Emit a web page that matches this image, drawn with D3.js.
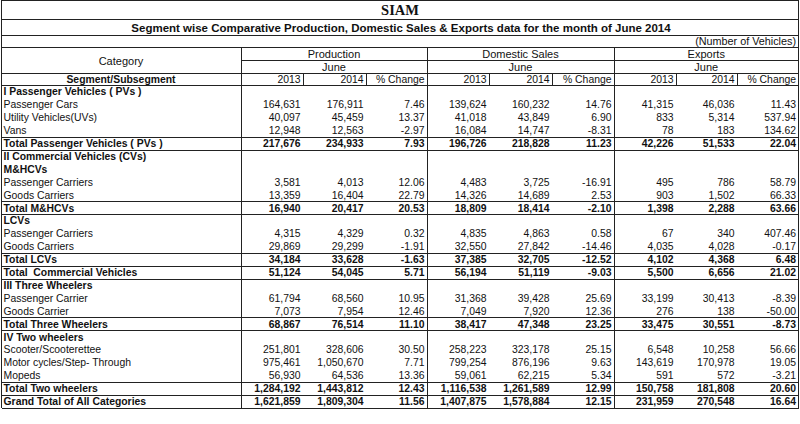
<!DOCTYPE html>
<html><head><meta charset="utf-8">
<script src="https://cdn.jsdelivr.net/npm/d3@7"></script>
<style>
html,body{margin:0;padding:0;background:#fff;}
svg{display:block;font-family:"Liberation Sans",Arial,sans-serif;}
text{white-space:pre;}
</style></head>
<body><svg id="c" width="800" height="424"></svg>
<script>
const title = "SIAM";
const subtitle = "Segment wise Comparative Production, Domestic Sales & Exports data for the month of June 2014";
const unitNote = "(Number of Vehicles)";
const groups = ["Production", "Domestic Sales", "Exports"];
const monthLabel = "June";
const yearLabels = ["2013", "2014", "% Change"];

const labels = [
  "I Passenger Vehicles ( PVs )", "Passenger Cars", "Utility Vehicles(UVs)", "Vans",
  "Total Passenger Vehicles ( PVs )", "II Commercial Vehicles (CVs)", "M&HCVs",
  "Passenger Carriers", "Goods Carriers", "Total M&HCVs", "LCVs", "Passenger Carriers",
  "Goods Carriers", "Total LCVs", "Total  Commercial Vehicles", "III Three Wheelers",
  "Passenger Carrier", "Goods Carrier", "Total Three Wheelers", "IV Two wheelers",
  "Scooter/Scooterettee", "Motor cycles/Step- Through", "Mopeds", "Total Two wheelers",
  "Grand Total of All Categories"
];
// row kinds: s = section heading, i = item, t = total
const rowKinds = ["s","i","i","i","t","s","s","i","i","t","s","i","i","t","t","s","i","i","t","s","i","i","i","t","t"];

const prod2013 = [null,164631,40097,12948,217676,null,null,3581,13359,16940,null,4315,29869,34184,51124,null,61794,7073,68867,null,251801,975461,56930,1284192,1621859];
const prod2014 = [null,176911,45459,12563,234933,null,null,4013,16404,20417,null,4329,29299,33628,54045,null,68560,7954,76514,null,328606,1050670,64536,1443812,1809304];
const prodChg  = [null,7.46,13.37,-2.97,7.93,null,null,12.06,22.79,20.53,null,0.32,-1.91,-1.63,5.71,null,10.95,12.46,11.10,null,30.50,7.71,13.36,12.43,11.56];
const dom2013  = [null,139624,41018,16084,196726,null,null,4483,14326,18809,null,4835,32550,37385,56194,null,31368,7049,38417,null,258223,799254,59061,1116538,1407875];
const dom2014  = [null,160232,43849,14747,218828,null,null,3725,14689,18414,null,4863,27842,32705,51119,null,39428,7920,47348,null,323178,876196,62215,1261589,1578884];
const domChg   = [null,14.76,6.90,-8.31,11.23,null,null,-16.91,2.53,-2.10,null,0.58,-14.46,-12.52,-9.03,null,25.69,12.36,23.25,null,25.15,9.63,5.34,12.99,12.15];
const exp2013  = [null,41315,833,78,42226,null,null,495,903,1398,null,67,4035,4102,5500,null,33199,276,33475,null,6548,143619,591,150758,231959];
const exp2014  = [null,46036,5314,183,51533,null,null,786,1502,2288,null,340,4028,4368,6656,null,30413,138,30551,null,10258,170978,572,181808,270548];
const expChg   = [null,11.43,537.94,134.62,22.04,null,null,58.79,66.33,63.66,null,407.46,-0.17,6.48,21.02,null,-8.39,-50.00,-8.73,null,56.66,19.05,-3.21,20.60,16.64];

const series = [prod2013, prod2014, prodChg, dom2013, dom2014, domChg, exp2013, exp2014, expChg];

// ---------- layout ----------
const svg = d3.select("#c");
const L = 1.5, R = 798.5;
const colEdges = [241, 303, 366, 427, 489, 552, 614, 676, 737, 798.5];
const fs = 10.4;
const ink = "#111";
const lineC = "#222";

const y = d3.scaleBand().domain(d3.range(labels.length)).range([85, 407.5]).paddingInner(0).paddingOuter(0);
const x = d3.scaleOrdinal().domain(d3.range(series.length)).range(colEdges.slice(1));

const loc = d3.formatLocale({ decimal: ".", thousands: ",", grouping: [3], currency: ["", ""], minus: "-" });
const fmtInt = loc.format(",");
const fmtPct = loc.format(".2f");

function hline(x1, x2, yy, w = 1, c = lineC) {
  svg.append("line").attr("x1", x1).attr("x2", x2).attr("y1", yy).attr("y2", yy)
    .attr("stroke", c).attr("stroke-width", w).attr("shape-rendering", "crispEdges");
}
function vline(xx, y1, y2, w = 1, c = lineC) {
  svg.append("line").attr("x1", xx).attr("x2", xx).attr("y1", y1).attr("y2", y2)
    .attr("stroke", c).attr("stroke-width", w).attr("shape-rendering", "crispEdges");
}

// outer frame / title rows
hline(L, R, 0.5);
hline(L, R, 19.5);
hline(L, R, 35.5);
hline(L, R, 47.5);
hline(241, R, 60.5);
hline(L, R, 73.5);
hline(L, R, 85.5);
vline(L, 0, 408);
vline(R, 0, 408);
[241, 427, 614].forEach(xx => vline(xx + 0.5, 47.5, 408));
// separators in the year header row
[303, 366, 489, 552, 676, 737].forEach(xx => vline(xx + 0.5, 73.5, 85.5));

// titles
svg.append("text").attr("x", 400).attr("y", 15).attr("text-anchor", "middle")
  .attr("font-family", "'Liberation Serif','Times New Roman',serif").attr("font-weight", "bold")
  .attr("font-size", 14.5).attr("fill", ink).text(title);
svg.append("text").attr("x", 401).attr("y", 31.5).attr("text-anchor", "middle")
  .attr("font-weight", "bold").attr("font-size", 11.5).attr("fill", ink).text(subtitle);
svg.append("text").attr("x", 796).attr("y", 45).attr("text-anchor", "end")
  .attr("font-size", 10.8).attr("fill", ink).text(unitNote);

// header
svg.append("text").attr("x", 121).attr("y", 64.5).attr("text-anchor", "middle")
  .attr("font-size", 11).attr("fill", ink).text("Category");
svg.append("text").attr("x", 121).attr("y", 83).attr("text-anchor", "middle")
  .attr("font-weight", "bold").attr("font-size", fs).attr("fill", ink).text("Segment/Subsegment");
const groupEdges = [[241, 427], [427, 614], [614, 798.5]];
groups.forEach((g, i) => {
  const cx = (groupEdges[i][0] + groupEdges[i][1]) / 2;
  svg.append("text").attr("x", cx).attr("y", 57.5).attr("text-anchor", "middle")
    .attr("font-size", 11).attr("fill", ink).text(g);
  svg.append("text").attr("x", cx).attr("y", 71).attr("text-anchor", "middle")
    .attr("font-size", 11).attr("fill", ink).text(monthLabel);
  yearLabels.forEach((yl, j) => {
    svg.append("text").attr("x", colEdges[i * 3 + j + 1] - 2.5).attr("y", 83)
      .attr("text-anchor", "end").attr("font-size", fs).attr("fill", ink).text(yl);
  });
});

// total row rules
rowKinds.forEach((k, i) => {
  if (k === "t") {
    hline(L, R, Math.round(y(i)) + 0.5);
    hline(L, R, Math.round(y(i) + y.bandwidth()) + 0.5);
  }
});

// row labels
const rows = svg.append("g");
rows.selectAll("text.lab").data(labels).join("text")
  .attr("class", "lab")
  .attr("x", 3.5)
  .attr("y", (d, i) => y(i) + y.bandwidth() / 2 + 4)
  .attr("font-size", fs)
  .attr("font-weight", (d, i) => rowKinds[i] === "i" ? "normal" : "bold")
  .attr("fill", ink)
  .text(d => d);

// values
series.forEach((arr, c) => {
  const isPct = c % 3 === 2;
  rows.selectAll("text.v" + c).data(arr.map((v, i) => ({ v, i })).filter(d => d.v !== null)).join("text")
    .attr("class", "v" + c)
    .attr("x", x(c) - 2.5)
    .attr("y", d => y(d.i) + y.bandwidth() / 2 + 4)
    .attr("text-anchor", "end")
    .attr("font-size", fs)
    .attr("font-weight", d => rowKinds[d.i] === "t" ? "bold" : "normal")
    .attr("fill", ink)
    .text(d => isPct ? fmtPct(d.v) : fmtInt(d.v));
});
</script></body></html>
